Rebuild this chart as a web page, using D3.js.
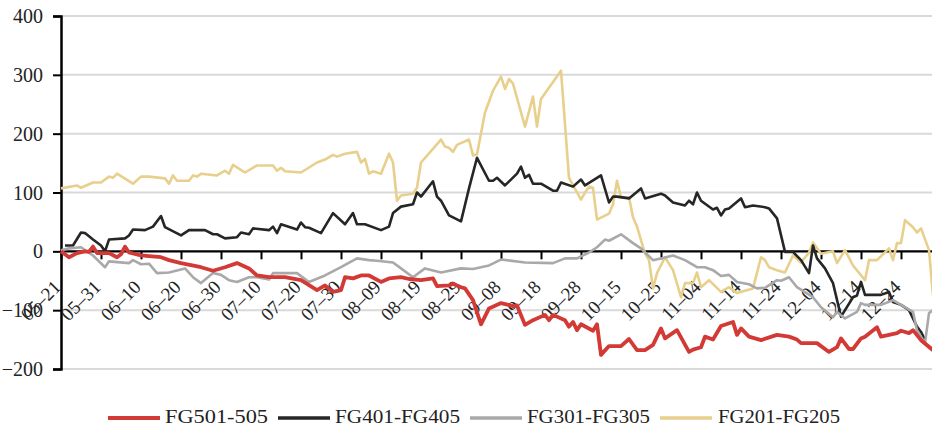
<!DOCTYPE html>
<html><head><meta charset="utf-8">
<script src="https://cdn.jsdelivr.net/npm/d3@7"></script>
<style>
html,body{margin:0;padding:0;background:#fff;}
svg{display:block;}
text{font-family:"Liberation Serif","DejaVu Serif",serif;fill:#222;}
</style></head><body>
<svg id="chart" width="932" height="428"></svg>
<script>
// x tick labels every 10 categories (category index = i*10)
const tickLabels = ["05-21","05-31","06-10","06-20","06-30","07-10","07-20","07-30","08-09","08-19","08-29","09-08","09-18","09-28","10-15","10-25","11-04","11-14","11-24","12-04","12-14","12-24"];
const yTicks = [-200,-100,0,100,200,300,400];
const seriesNames = ["FG501-505","FG401-FG405","FG301-FG305","FG201-FG205"];
const seriesColors = ["#d33a35","#262626","#a9a9a9","#e8cf8c"];
// [category index, value]
const fg501 = [[0,0],[2,-10],[4,-3],[6,0],[7,-1],[8,8],[9,-3],[12,-3],[14,-10],[15,-5],[16,8],[17,-2],[20,-7],[22,-8],[25,-10],[27,-15],[30,-20],[35,-27],[38,-33],[41,-27],[44,-20],[47,-29],[49,-41],[52,-44],[56,-44],[60,-49],[64,-66],[66,-58],[68,-69],[70,-66],[71,-44],[73,-46],[75,-41],[77,-41],[80,-52],[82,-46],[85,-44],[87,-47],[90,-49],[93,-46],[94,-59],[97,-58],[98,-55],[100,-61],[101,-63],[103,-83],[105,-124],[107,-97],[110,-88],[113,-93],[114,-92],[116,-125],[118,-117],[121,-108],[122,-117],[123,-108],[126,-117],[127,-128],[128,-120],[129,-134],[130,-124],[133,-135],[134,-124],[135,-176],[137,-161],[140,-161],[142,-149],[144,-168],[146,-168],[148,-159],[150,-131],[151,-148],[154,-134],[157,-171],[158,-167],[160,-163],[161,-145],[163,-150],[165,-127],[168,-120],[169,-142],[170,-131],[172,-145],[175,-151],[179,-142],[182,-145],[184,-150],[185,-156],[189,-156],[192,-171],[194,-163],[195,-148],[197,-166],[198,-166],[200,-148],[201,-145],[204,-129],[205,-145],[209,-139],[210,-135],[212,-139],[213,-134],[215,-151],[218,-168]];
const fg401 = [[1,10],[3,10],[5,32],[6,31],[8,20],[10,10],[11,0],[12,20],[16,22],[17,27],[18,37],[21,36],[23,42],[25,60],[26,41],[30,27],[32,36],[36,36],[38,29],[39,29],[41,22],[44,24],[45,32],[47,29],[48,39],[52,36],[53,42],[54,31],[55,46],[59,37],[60,49],[61,41],[62,40],[65,31],[68,65],[71,46],[73,65],[74,46],[76,46],[80,36],[82,42],[83,65],[85,76],[88,80],[89,100],[90,93],[93,119],[94,93],[95,86],[97,61],[100,51],[102,107],[104,159],[107,120],[108,120],[109,125],[111,112],[114,132],[115,144],[116,125],[117,130],[118,115],[120,115],[123,103],[124,103],[125,117],[128,110],[130,122],[131,112],[135,129],[137,83],[138,93],[139,93],[142,90],[145,107],[146,90],[150,98],[151,95],[153,83],[156,78],[157,86],[158,80],[159,100],[160,86],[163,71],[164,74],[165,61],[166,71],[167,73],[170,90],[171,75],[173,78],[176,75],[177,73],[179,56],[181,-1],[183,-1],[185,-15],[187,-37],[188,10],[189,-12],[191,-29],[193,-54],[195,-111],[198,-78],[199,-75],[200,-52],[201,-74],[205,-74],[207,-69],[208,-86],[210,-91],[212,-100],[214,-128],[215,-137],[216,-151]];
const fg301 = [[0,2],[2,5],[5,7],[8,-7],[11,-27],[12,-17],[17,-20],[18,-15],[20,-22],[22,-21],[24,-37],[27,-36],[31,-29],[33,-44],[35,-54],[38,-37],[40,-40],[42,-49],[44,-52],[47,-44],[49,-44],[52,-48],[53,-37],[59,-37],[62,-52],[66,-41],[70,-27],[74,-12],[77,-15],[79,-16],[83,-19],[85,-29],[88,-44],[91,-29],[95,-36],[100,-29],[103,-30],[107,-24],[110,-14],[116,-19],[123,-20],[126,-12],[129,-12],[132,-2],[134,7],[136,20],[137,18],[140,29],[143,14],[145,5],[148,-15],[150,-12],[153,-7],[156,-15],[159,-27],[161,-27],[163,-32],[165,-42],[167,-40],[169,-52],[172,-56],[174,-63],[176,-62],[179,-49],[180,-50],[182,-44],[184,-61],[188,-78],[190,-95],[193,-112],[194,-103],[196,-114],[199,-103],[200,-88],[201,-91],[205,-91],[208,-83],[210,-91],[213,-103],[214,-134],[216,-156],[217,-105],[218,-100]];
const fg201 = [[0,107],[4,112],[5,108],[8,117],[10,117],[12,127],[13,125],[14,132],[18,115],[20,127],[22,127],[26,124],[27,115],[28,129],[29,120],[32,120],[33,129],[34,127],[35,132],[39,129],[41,137],[42,132],[43,147],[46,134],[49,146],[53,146],[54,137],[55,142],[56,136],[60,134],[64,151],[66,156],[68,164],[69,161],[71,166],[74,169],[75,151],[76,157],[77,132],[78,136],[80,132],[82,166],[83,151],[84,86],[85,95],[88,98],[89,108],[90,151],[95,190],[96,178],[97,176],[98,169],[99,181],[102,190],[103,163],[104,165],[106,236],[108,273],[110,297],[111,276],[112,293],[113,285],[116,212],[118,263],[119,212],[120,259],[125,307],[127,125],[130,88],[131,100],[132,110],[133,108],[134,54],[137,64],[138,80],[139,120],[140,92],[142,92],[143,58],[144,42],[146,-4],[147,-15],[148,-63],[149,-37],[151,-10],[153,-32],[155,-78],[156,-54],[158,-54],[159,-36],[160,-61],[162,-49],[165,-69],[167,-61],[169,-71],[173,-63],[175,-10],[176,-15],[177,-27],[179,-32],[181,-36],[183,-7],[185,-19],[187,-2],[188,15],[190,-4],[193,0],[194,-20],[196,2],[198,-24],[201,-49],[202,-15],[204,-15],[207,5],[208,-15],[209,14],[210,14],[211,53],[213,41],[214,32],[215,39],[217,2],[218,-75]];
const allSeries = [fg501, fg401, fg301, fg201];

const svg = d3.select("#chart");
const x = d3.scaleLinear().domain([0, 218]).range([61, 933]);
const y = d3.scaleLinear().domain([-200, 400]).range([369, 16]);

// gridlines
svg.append("g").selectAll("line").data(yTicks.filter(d => d !== 0)).join("line")
  .attr("x1", 62).attr("x2", 932).attr("y1", d => y(d)).attr("y2", d => y(d))
  .attr("stroke", "#d9d9d9").attr("stroke-width", 2);

// y axis
const yAxis = svg.append("g").attr("transform", "translate(61,0)")
  .call(d3.axisLeft(y).tickValues(yTicks).tickSize(8).tickPadding(10).tickFormat(d => d < 0 ? "\u2212" + Math.abs(d) : d));
yAxis.select(".domain").attr("stroke", "#000").attr("stroke-width", 2.5);
yAxis.selectAll(".tick line").attr("stroke", "#000").attr("stroke-width", 2);
yAxis.selectAll(".tick text").attr("font-size", 20).attr("font-family", "Liberation Serif").attr("fill", "#222").attr("dy", "0.33em");

// x axis at zero
const xAxis = svg.append("g").attr("transform", `translate(0,${y(0)})`)
  .call(d3.axisBottom(x).tickValues(tickLabels.map((d, i) => i * 10)).tickSize(8).tickFormat(""));
xAxis.select(".domain").attr("stroke", "#000").attr("stroke-width", 2.2).attr("d", `M61,0H932`);
xAxis.selectAll(".tick line").attr("stroke", "#000").attr("stroke-width", 2);

// x labels
svg.append("g").selectAll("text").data(tickLabels).join("text")
  .attr("transform", (d, i) => `translate(${x(i * 10) + 1},${y(0) + 37}) rotate(-45)`)
  .attr("text-anchor", "end").attr("font-size", 19)
  .text(d => d.replace("-", "\u2013"));

// lines
const line = d3.line().x(d => x(d[0])).y(d => y(d[1]));
const drawOrder = [3, 1, 2, 0];
const widths = [3.8, 2.6, 2.6, 2.6];
drawOrder.forEach(i => {
  svg.append("path").datum(allSeries[i]).attr("d", line)
    .attr("fill", "none").attr("stroke", seriesColors[i]).attr("stroke-width", widths[i])
    .attr("stroke-linejoin", "round");
});

// legend
const legendLineX = [108, 278, 470, 660];
const legendTextX = [165, 335, 527, 718];
const legendTextW = [103, 125, 123, 122];
const lg = svg.append("g");
seriesNames.forEach((name, i) => {
  lg.append("line").attr("x1", legendLineX[i]).attr("x2", legendLineX[i] + 52)
    .attr("y1", 418).attr("y2", 418).attr("stroke", seriesColors[i]).attr("stroke-width", i === 0 ? 4 : 3.5);
  lg.append("text").attr("x", legendTextX[i]).attr("y", 423).attr("font-size", 18)
    .attr("textLength", legendTextW[i]).attr("lengthAdjust", "spacingAndGlyphs").text(name);
});
</script>
</body></html>
